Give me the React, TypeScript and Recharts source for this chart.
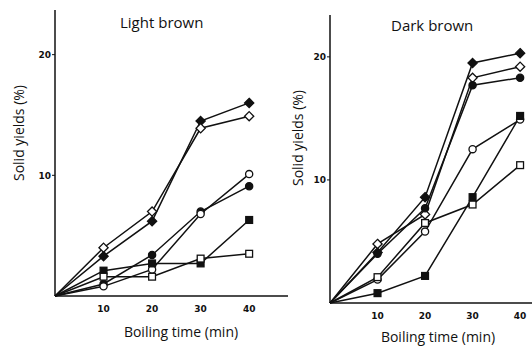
import { LineChart, Line, XAxis, YAxis } from 'recharts'

// boiling time (min)
const times = [0, 10, 20, 30, 40]
const xTicks = [10, 20, 30, 40]
const yTicks = [10, 20]

// Light brown, solid yields (%)
const lightFilledDiamond = [0, 3.3, 6.2, 14.5, 16.0]
const lightOpenDiamond = [0, 4.0, 7.0, 13.9, 14.9]
const lightFilledCircle = [0, 1.0, 3.4, 7.0, 9.1]
const lightOpenCircle = [0, 0.8, 2.2, 6.8, 10.1]
const lightFilledSquare = [0, 2.1, 2.7, 2.7, 6.3]
const lightOpenSquare = [0, 1.6, 1.6, 3.1, 3.5]

// Dark brown, solid yields (%)
const darkFilledDiamond = [0, 4.1, 8.6, 19.5, 20.3]
const darkOpenDiamond = [0, 4.8, 7.2, 18.3, 19.2]
const darkFilledCircle = [0, 4.0, 7.7, 17.7, 18.3]
const darkOpenCircle = [0, 1.9, 5.8, 12.5, 14.9]
const darkFilledSquare = [0, 0.8, 2.2, 8.6, 15.2]
const darkOpenSquare = [0, 2.1, 6.5, 8.0, 11.2]

type Shape = 'diamond' | 'circle' | 'square'

const seriesDefs: { key: string; shape: Shape; filled: boolean }[] = [
  { key: 'fd', shape: 'diamond', filled: true },
  { key: 'od', shape: 'diamond', filled: false },
  { key: 'fc', shape: 'circle', filled: true },
  { key: 'oc', shape: 'circle', filled: false },
  { key: 'fs', shape: 'square', filled: true },
  { key: 'os', shape: 'square', filled: false },
]

const build = (cols: number[][]) =>
  times.map((t, i) => ({
    t,
    fd: cols[0][i],
    od: cols[1][i],
    fc: cols[2][i],
    oc: cols[3][i],
    fs: cols[4][i],
    os: cols[5][i],
  }))

const lightData = build([
  lightFilledDiamond, lightOpenDiamond, lightFilledCircle,
  lightOpenCircle, lightFilledSquare, lightOpenSquare,
])
const darkData = build([
  darkFilledDiamond, darkOpenDiamond, darkFilledCircle,
  darkOpenCircle, darkFilledSquare, darkOpenSquare,
])

const INK = '#111'

const marker = (shape: Shape, filled: boolean) => (props: any) => {
  const { cx, cy, index } = props
  if (index === 0 || cx == null || cy == null) return <g key={index} />
  const fill = filled ? INK : '#fff'
  if (shape === 'circle') {
    return <circle key={index} cx={cx} cy={cy} r={3.6} fill={fill} stroke={INK} strokeWidth={1.3} />
  }
  if (shape === 'square') {
    return <rect key={index} x={cx - 3.4} y={cy - 3.4} width={6.8} height={6.8} fill={fill} stroke={INK} strokeWidth={1.3} />
  }
  const s = 4.6
  return (
    <polygon
      key={index}
      points={`${cx},${cy - s} ${cx + s},${cy} ${cx},${cy + s} ${cx - s},${cy}`}
      fill={fill}
      stroke={INK}
      strokeWidth={1.3}
    />
  )
}

const tickStyle = { fontSize: 9, fontWeight: 700, fill: INK, fontFamily: '"DejaVu Sans", sans-serif' }
const labelFont = '"Open Sans", sans-serif'

function Panel({ data, width, margin, yAxisWidth, xMax, yMax }: any) {
  return (
    <LineChart width={width} height={350} data={data} margin={margin}>
      <XAxis
        dataKey="t"
        type="number"
        domain={[0, xMax]}
        ticks={xTicks}
        height={20}
        tickLine={false}
        tickMargin={4}
        axisLine={{ stroke: INK, strokeWidth: 1.5 }}
        tick={tickStyle}
      />
      <YAxis
        type="number"
        domain={[0, yMax]}
        ticks={yTicks}
        width={yAxisWidth}
        tickSize={3}
        tickMargin={1}
        axisLine={{ stroke: INK, strokeWidth: 1.5 }}
        tickLine={{ stroke: INK }}
        tick={tickStyle}
      />
      {seriesDefs.map((s) => (
        <Line
          key={s.key}
          dataKey={s.key}
          stroke={INK}
          strokeWidth={1.5}
          dot={marker(s.shape, s.filled)}
          activeDot={false}
          isAnimationActive={false}
        />
      ))}
    </LineChart>
  )
}

const text = (extra: any) => ({
  position: 'absolute' as const,
  fontFamily: labelFont,
  color: INK,
  whiteSpace: 'nowrap' as const,
  ...extra,
})

export default function App() {
  return (
    <div style={{ position: 'absolute', left: 0, top: 0, width: 532, height: 350, background: '#fff', overflow: 'hidden' }}>
      <div style={{ position: 'absolute', left: 0, top: 0 }}>
        <Panel
          data={lightData}
          width={300}
          margin={{ top: 10, right: 12, bottom: 34, left: 0 }}
          yAxisWidth={55}
          xMax={48}
          yMax={23.7}
        />
      </div>
      <div style={{ position: 'absolute', left: 270, top: 0 }}>
        <Panel
          data={darkData}
          width={262}
          margin={{ top: 15, right: 0, bottom: 27, left: 0 }}
          yAxisWidth={60}
          xMax={42.5}
          yMax={23.4}
        />
      </div>

      <div style={text({ left: 120, top: 12, fontSize: 15 })}>Light brown</div>
      <div style={text({ left: 391, top: 15, fontSize: 15 })}>Dark brown</div>

      <div style={text({ left: 18, top: 133, fontSize: 14, transform: 'translate(-50%, -50%) rotate(-90deg)' })}>
        Solid yields (%)
      </div>
      <div style={text({ left: 297, top: 138, fontSize: 14, transform: 'translate(-50%, -50%) rotate(-90deg)' })}>
        Solid yields (%)
      </div>

      <div style={text({ left: 181, top: 331, fontSize: 14, transform: 'translate(-50%, -50%)' })}>
        Boiling time (min)
      </div>
      <div style={text({ left: 438, top: 336, fontSize: 14, transform: 'translate(-50%, -50%)' })}>
        Boiling time (min)
      </div>
    </div>
  )
}
